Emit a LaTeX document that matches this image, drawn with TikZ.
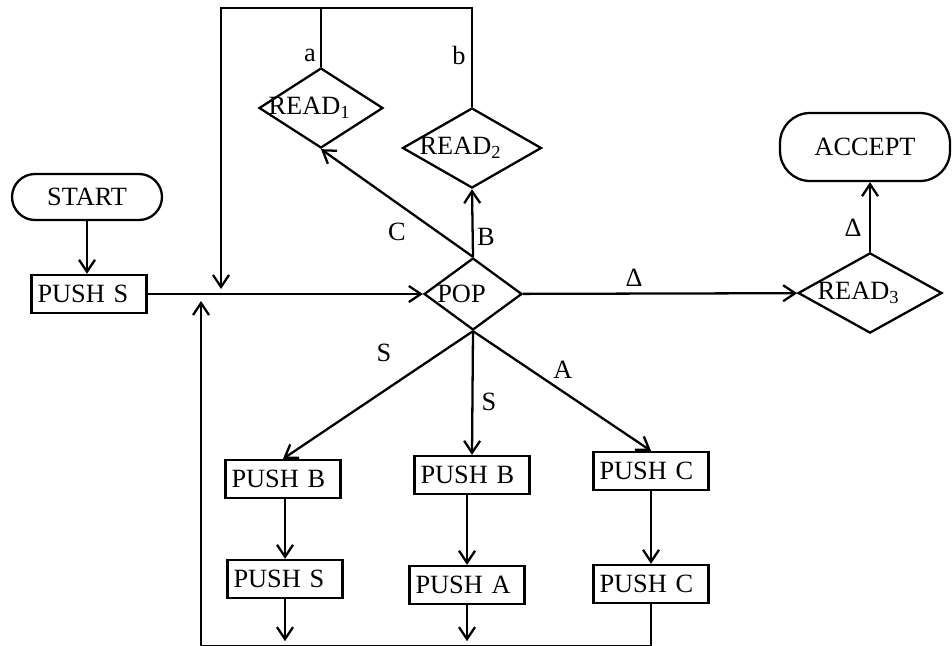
\documentclass[tikz,border=0pt]{standalone}
\usepackage{fontspec}
\setmainfont{Liberation Serif}
\usetikzlibrary{arrows.meta,shapes.geometric}

\tikzset{
  stadium/.style={draw, rounded corners=0.46cm, minimum width=3cm, minimum height=0.92cm},
  pushbox/.style={draw, text width=2.06cm, align=left, inner xsep=0.12cm, minimum height=0.76cm},
  decide/.style={draw, diamond, inner sep=0pt, execute at begin node={\hspace*{-0.46cm}}},
  lbl/.style={inner sep=0pt}
}

\begin{document}
\begin{tikzpicture}[x=0.02cm,y=-0.02cm,line width=1.3pt,
  >={Straight Barb[length=2.4mm,width=3.2mm]},font=\fontsize{15}{17}\selectfont]
\useasboundingbox (0,0) rectangle (952,645);
% ---------- nodes ----------
\node[stadium] (start) at (87,197) {START};
\node[pushbox] (pushS) at (89,294) {PUSH S};
\node[decide, minimum width=1.96cm, minimum height=1.44cm] (pop) at (473,294) {POP};
\node[decide, minimum width=2.48cm, minimum height=1.4cm] (readA) at (321,108) {READ\textsubscript{1}};
\node[decide, minimum width=2.78cm, minimum height=1.46cm] (readB) at (472,148) {READ\textsubscript{2}};
\node[decide, minimum width=2.88cm, minimum height=1.48cm] (readC) at (870,293) {READ\textsubscript{3}};
\node[stadium, minimum width=3.4cm, minimum height=1.36cm, rounded corners=0.6cm] (accept) at (865,147) {ACCEPT};
\node[pushbox] (pushB1) at (283,479) {PUSH B};
\node[pushbox] (pushS2) at (285,579) {PUSH S};
\node[pushbox] (pushB2) at (472,475) {PUSH B};
\node[pushbox] (pushA) at (467,585) {PUSH A};
\node[pushbox] (pushC1) at (651,471) {PUSH C};
\node[pushbox] (pushC2) at (651,584) {PUSH C};
% ---------- loop points ----------
\coordinate (topL) at (221,8);
\coordinate (inA) at (221,289);
\coordinate (inB) at (201,301);
\coordinate (botL) at (201,646);
% ---------- connectors ----------
\draw[->] (start.south) -- (start.south |- pushS.north);
\draw[->] (pushS) -- (pop);
\draw[->] (pop.north) -- (readA.south);
\draw[->] (pop.north) -- (readB.south);
\draw[->] (pop) -- (readC);
\draw[->] (readC.north) -- (readC.north |- accept.south);
\draw[->] (pop.south) -- (pushB1.north);
\draw[->] (pop.south) -- (pushB2.north);
\draw[->] (pop.south) -- (pushC1.north);
\draw[->] (pushS2.north |- pushB1.south) -- (pushS2.north);
\draw[->] (pushA.north |- pushB2.south) -- (pushA.north);
\draw[->] (pushC1) -- (pushC2);
% back to POP from the top
\draw (readA.north) -- (readA.north |- topL);
\draw[->] (readB.north) |- (topL) -- (inA);
% back to POP from the bottom
\draw[->] (pushS2.south) -- ++(0,42);
\draw[->] (pushA.south) -- ++(0,36);
\draw[->] (pushC2.south) |- (botL) -- (inB);
% ---------- labels ----------
\node[lbl] (la) at (310,55) {a};
\node[lbl] (lb) at (459,55) {b};
\node[lbl] (lC) at (397,232) {C};
\node[lbl] (lB) at (486,237) {B};
\node[lbl] (lD1) at (634,278) {Δ};
\node[lbl] (lD2) at (853,228) {Δ};
\node[lbl] (lS1) at (384,353) {S};
\node[lbl] (lS2) at (489,402) {S};
\node[lbl] (lA) at (563,370) {A};
\end{tikzpicture}
\end{document}
